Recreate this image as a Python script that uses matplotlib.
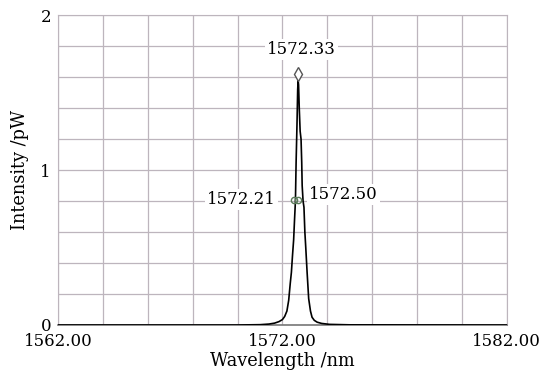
import matplotlib.pyplot as plt
from matplotlib.ticker import MultipleLocator

# spectrum (nm, pW)
wavelength = [1562.0, 1570.0, 1571.0, 1571.4, 1571.65, 1571.85, 1572.0, 1572.1,
              1572.2, 1572.28, 1572.35, 1572.4, 1572.45, 1572.5, 1572.54,
              1572.58, 1572.61, 1572.65, 1572.68, 1572.70, 1572.72, 1572.75,
              1572.79, 1572.83, 1572.86, 1572.88, 1572.92, 1572.96, 1573.0,
              1573.04, 1573.1, 1573.17, 1573.25, 1573.32, 1573.42, 1573.55,
              1573.75, 1574.1, 1575.0, 1582.0]
intensity = [0.0, 0.0, 0.002, 0.006, 0.012, 0.022, 0.035, 0.055,
             0.09, 0.16, 0.27, 0.34, 0.45, 0.55, 0.68,
             0.8, 1.05, 1.3, 1.52, 1.58, 1.55, 1.4,
             1.25, 1.2, 1.05, 0.9, 0.8, 0.76, 0.6,
             0.5, 0.34, 0.17, 0.09, 0.05, 0.03, 0.018,
             0.01, 0.004, 0.001, 0.0]

peak_x, peak_y = 1572.70, 1.62
half_left_x, half_right_x, half_y = 1572.52, 1572.70, 0.81
peak_label = "1572.33"
left_label = "1572.21"
right_label = "1572.50"

plt.rcParams['font.family'] = ['DejaVu Serif']

fig = plt.figure(figsize=(5.45, 3.79), dpi=100)
ax = fig.add_axes([0.1064, 0.1425, 0.8236, 0.8175])

ax.plot(wavelength, intensity, color='black', lw=1.2, zorder=3)

grid_c = '#bdb5bd'
ax.set_xlim(1562, 1582)
ax.set_ylim(0, 2)
ax.set_xticks([1562, 1572, 1582])
ax.set_xticklabels(['1562.00', '1572.00', '1582.00'])
ax.set_yticks([0, 1, 2])
ax.xaxis.set_minor_locator(MultipleLocator(2))
ax.yaxis.set_minor_locator(MultipleLocator(0.2))
ax.grid(True, which='both', color=grid_c, lw=0.9)
ax.set_axisbelow(True)
ax.tick_params(which='both', length=0, labelsize=12, pad=5)
ax.tick_params(axis='x', pad=6)
for s in ['top', 'right', 'left']:
    ax.spines[s].set_color(grid_c)
ax.spines['bottom'].set_color('#777777')
ax.spines['bottom'].set_linewidth(1.2)

ax.set_xlabel('Wavelength /nm', fontsize=12.8, labelpad=1)
ax.set_ylabel('Intensity /pW', fontsize=12.8, labelpad=8)

ax.plot([peak_x], [peak_y], marker='d', ms=7, mfc='white', mec='#555555',
        mew=1.0, zorder=4)
ax.plot([half_left_x, half_right_x], [half_y, half_y], ls='none', marker='o',
        ms=4.5, mfc='none', mec='#5a7a5a', mew=1.0, zorder=4)

box = dict(facecolor='white', edgecolor='none', pad=1.5)
ax.text(1572.85, 1.78, peak_label, ha='center', va='center', fontsize=12,
        bbox=box, zorder=2)
ax.text(1571.7, 0.81, left_label, ha='right', va='center', fontsize=12,
        bbox=box, zorder=2)
ax.text(1573.2, 0.84, right_label, ha='left', va='center', fontsize=12,
        bbox=box, zorder=2)

fig.savefig('out.png', dpi=100)
